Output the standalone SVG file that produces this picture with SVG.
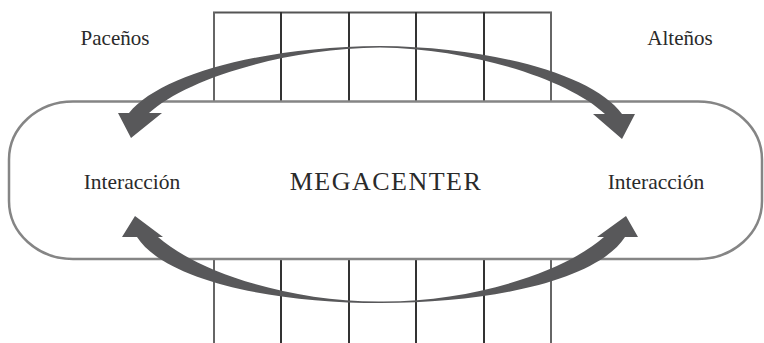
<svg xmlns="http://www.w3.org/2000/svg" width="764" height="343" viewBox="0 0 764 343">
<style>
text{font-family:"Liberation Serif","Times New Roman",serif;fill:#2a2a2a}
.lbl{font-size:21px;text-anchor:middle}
.big{font-size:26px;letter-spacing:1.5px;text-anchor:middle}
.gin{stroke:#333;stroke-width:2;fill:none}
.gout{stroke:#666;stroke-width:2;fill:none}
.arrow{fill:#58585a;stroke:none}
</style>
<rect width="764" height="343" fill="#fff"/>
<g id="grid-top">
<line class="gin" x1="213" y1="12.5" x2="552" y2="12.5" style="stroke:#555"/>
<line class="gout" x1="214" y1="12" x2="214" y2="101"/>
<line class="gin" x1="281" y1="12" x2="281" y2="101"/>
<line class="gin" x1="349" y1="12" x2="349" y2="101"/>
<line class="gin" x1="416" y1="12" x2="416" y2="101"/>
<line class="gin" x1="484" y1="12" x2="484" y2="101"/>
<line class="gout" x1="551" y1="12" x2="551" y2="101"/>
</g>
<g id="grid-bottom">
<line class="gout" x1="214" y1="259" x2="214" y2="343"/>
<line class="gin" x1="281" y1="259" x2="281" y2="343"/>
<line class="gin" x1="349" y1="259" x2="349" y2="343"/>
<line class="gin" x1="416" y1="259" x2="416" y2="343"/>
<line class="gin" x1="484" y1="259" x2="484" y2="343"/>
<line class="gout" x1="551" y1="259" x2="551" y2="343"/>
</g>
<g id="megacenter">
<rect x="9" y="101.5" width="753" height="157.5" rx="64" ry="58" fill="none" stroke="#858585" stroke-width="2.5"/>
<text class="big" x="386" y="190">MEGACENTER</text>
</g>
<g id="pacenos"><text class="lbl" x="115" y="45">Paceños</text></g>
<g id="altenos"><text class="lbl" x="680" y="45">Alteños</text></g>
<g id="interaccion-left"><text class="lbl" x="132" y="189" style="font-size:21.5px">Interacción</text></g>
<g id="interaccion-right"><text class="lbl" x="656" y="189" style="font-size:21.5px">Interacción</text></g>
<g id="connectors">
<path class="arrow" d="M129,113 L118,113 L131,138 L162,113 L149,113 C185,80 280,49 380,47.5 C474,49 569,80 605,114 L593,114 L622,139 L635,114 L622,114 C594,75 494,47 380,46 C260,47 160,75 129,113 Z"/>
<path class="arrow" d="M137,237 L122,237 L135,216 L163,237 L158,237 C195,270 285,302 381,301.5 C477,302 567,270 604,237 L597,237 L626,216 L638,237 L625,237 C597,280 492,303 381,303 C270,303 165,280 137,237 Z"/>
</g>
</svg>
